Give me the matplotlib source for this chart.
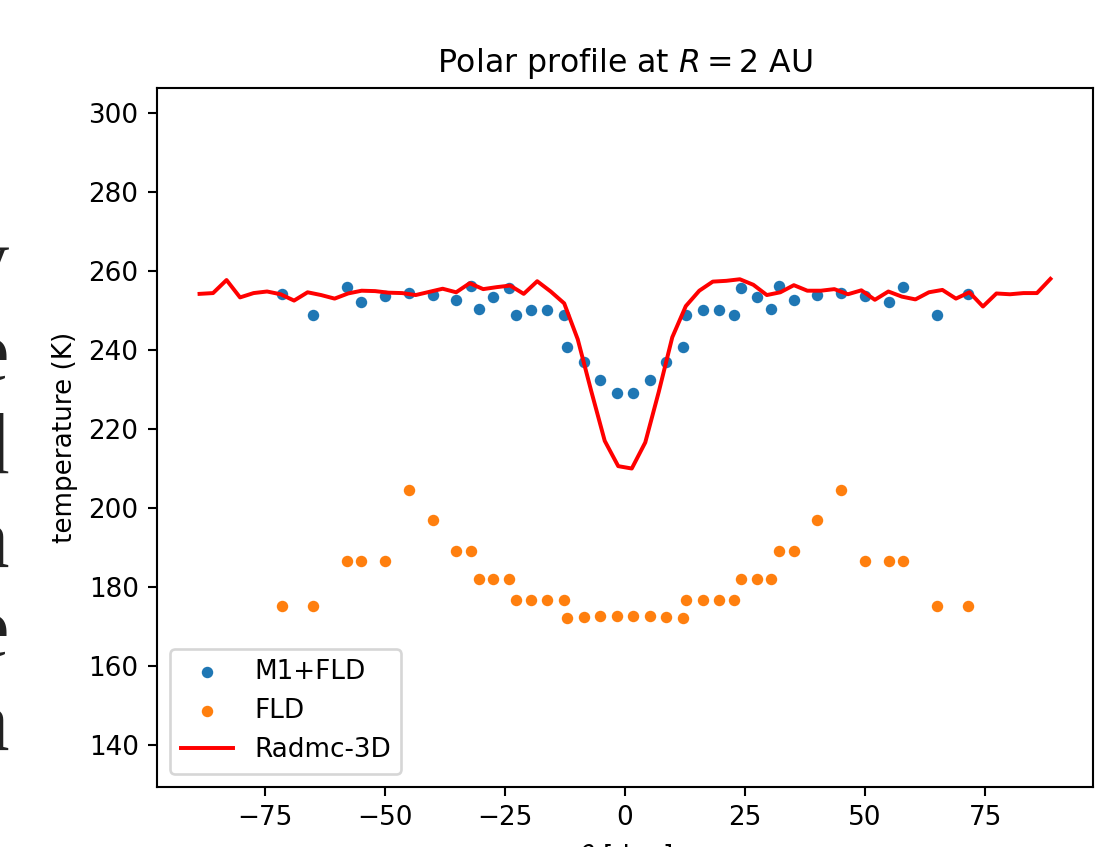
import numpy as np
import matplotlib
matplotlib.use("Agg")
import matplotlib.pyplot as plt

# data
theta_pts = [-71.5, -65.0, -57.8, -54.9, -49.9, -44.9, -40.0, -35.1, -32.1, -30.4,
             -27.4, -24.2, -22.7, -19.5, -16.25, -12.8, -12.0, -8.6, -5.15, -1.7,
             1.7, 5.15, 8.6, 12.0, 12.8, 16.25, 19.5, 22.7, 24.2, 27.4,
             30.4, 32.1, 35.1, 40.0, 44.9, 49.9, 54.9, 57.8, 65.0, 71.5]
t_m1fld = [254.1, 248.8, 255.9, 252.2, 253.7, 254.5, 253.8, 252.7, 256.3, 250.4,
           253.3, 255.7, 248.9, 250.1, 250.1, 248.8, 240.7, 237.0, 232.4, 229.0,
           229.0, 232.4, 237.0, 240.7, 248.8, 250.1, 250.1, 248.9, 255.7, 253.3,
           250.4, 256.3, 252.7, 253.8, 254.5, 253.7, 252.2, 255.9, 248.8, 254.1]
t_fld = [175.2, 175.2, 186.7, 186.7, 186.7, 204.6, 196.9, 189.2, 189.2, 182.1,
         182.1, 182.1, 176.7, 176.7, 176.7, 176.7, 172.1, 172.4, 172.7, 172.8,
         172.8, 172.7, 172.4, 172.1, 176.7, 176.7, 176.7, 176.7, 182.1, 182.1,
         182.1, 189.2, 189.2, 196.9, 204.6, 186.7, 186.7, 186.7, 175.2, 175.2]

theta_radmc = [-88.59, -85.78, -82.97, -80.16, -77.34, -74.53, -71.72, -68.91,
               -66.09, -63.28, -60.47, -57.66, -54.84, -52.03, -49.22, -46.41,
               -43.59, -40.78, -37.97, -35.16, -32.34, -29.53, -26.72, -23.91,
               -21.09, -18.28, -15.47, -12.66, -9.84, -7.03, -4.22, -1.41,
               1.41, 4.22, 7.03, 9.84, 12.66, 15.47, 18.28, 21.09,
               23.91, 26.72, 29.53, 32.34, 35.16, 37.97, 40.78, 43.59,
               46.41, 49.22, 52.03, 54.84, 57.66, 60.47, 63.28, 66.09,
               68.91, 71.72, 74.53, 77.34, 80.16, 82.97, 85.78, 88.59]
t_radmc = [254.2, 254.4, 257.7, 253.3, 254.4, 254.8, 254.1, 252.5, 254.6, 253.9,
           253.0, 254.3, 255.0, 254.9, 254.5, 254.4, 253.9, 254.7, 255.5, 254.6,
           256.9, 255.4, 255.9, 256.3, 254.2, 257.4, 254.8, 251.8, 242.7, 229.6,
           217.0, 210.6, 210.0, 216.6, 229.4, 243.2, 251.1, 255.0, 257.3, 257.5,
           257.9, 256.5, 253.9, 254.6, 256.4, 255.0, 255.0, 255.4, 254.1, 255.1,
           252.7, 254.8, 253.5, 252.8, 254.6, 255.2, 253.0, 254.6, 251.0, 254.3,
           254.1, 254.4, 254.4, 258.0]

# bits of the page text that show at the left edge of the screenshot
side_letters = ["y", "e", "d", "a", "e", "a"]
side_baselines = [287, 380, 473, 567, 656, 750]

W, H, DPI = 1116, 847, 189
fig = plt.figure(figsize=(W / DPI, H / DPI), dpi=DPI)
ax = fig.add_axes([157 / W, 60 / H, 936 / W, 699 / H])

ax.scatter(theta_pts, t_m1fld, s=19, linewidths=0, label="M1+FLD")
ax.scatter(theta_pts, t_fld, s=19, linewidths=0, label="FLD")
ax.plot(theta_radmc, t_radmc, color="r", label="Radmc-3D")

ax.set_xlim(-97.45, 97.45)
ax.set_ylim(129.4, 306.3)
ax.set_xticks([-75, -50, -25, 0, 25, 50, 75])
ax.set_yticks(np.arange(140, 301, 20))
ax.set_title("Polar profile at $R = 2$ AU")
ax.set_xlabel(r"$\theta$ [deg]")
ax.set_ylabel("temperature (K)")
ax.legend(loc="lower left")

for s, yb in zip(side_letters, side_baselines):
    fig.text(9 / W, 1 - yb / H, s, ha="right", va="baseline", fontsize=33,
             family="Liberation Serif", color="#222222")

fig.savefig("out.png", dpi=DPI)
